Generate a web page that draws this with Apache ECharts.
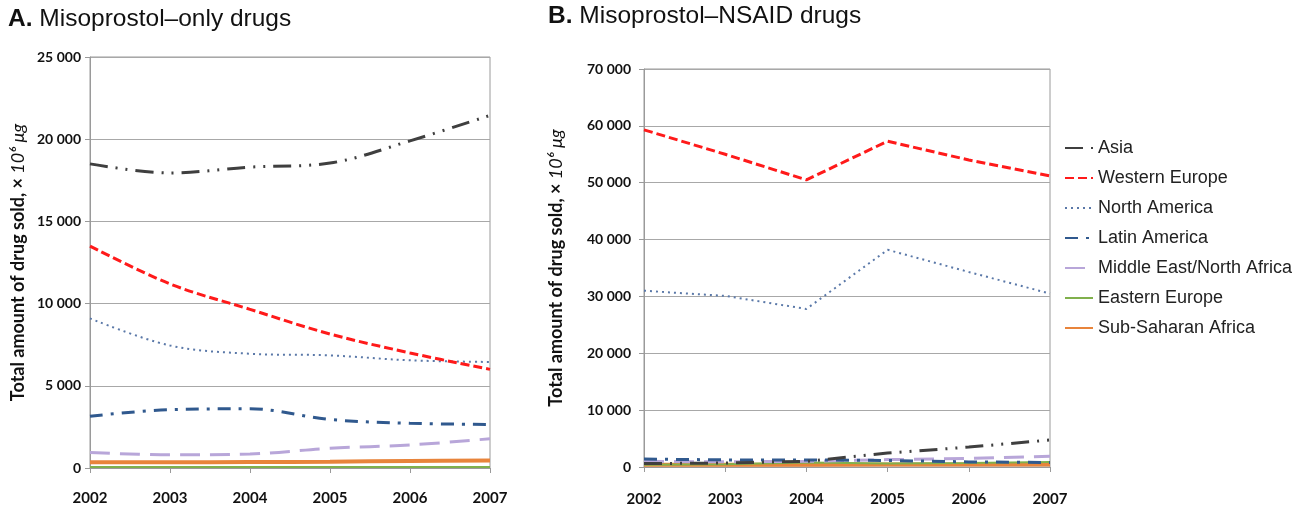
<!DOCTYPE html>
<html>
<head>
<meta charset="utf-8">
<script src="https://cdn.jsdelivr.net/npm/echarts@6/dist/echarts.min.js"></script>
<style>html,body{margin:0;padding:0;background:#fff}#c{width:1315px;height:513px}</style>
</head>
<body>
<div id="c"></div>
<script>
const years = ['2002','2003','2004','2005','2006','2007'];
const regions = ['Asia','Western Europe','North America','Latin America','Middle East/North Africa','Eastern Europe','Sub-Saharan Africa'];
// Panel A: Misoprostol-only drugs (x 10^6 μg)
const onlyAsia     = [18500, 17950, 18300, 18550, 19900, 21450];
const onlyWEurope  = [13500, 11200, 9650, 8150, 7000, 6000];
const onlyNAmerica = [9100, 7450, 6950, 6850, 6550, 6450];
const onlyLatAm    = [3150, 3550, 3600, 2950, 2720, 2650];
const onlyMENA     = [950, 800, 850, 1200, 1400, 1780];
const onlyEEurope  = [60, 60, 60, 60, 60, 60];
const onlySSA      = [350, 350, 360, 380, 430, 450];
// Panel B: Misoprostol-NSAID drugs
const nsaidAsia     = [600, 700, 1000, 2450, 3500, 4750];
const nsaidWEurope  = [59300, 55000, 50500, 57300, 54000, 51200];
const nsaidNAmerica = [31000, 30100, 27800, 38200, 34300, 30500];
const nsaidLatAm    = [1400, 1250, 1250, 1150, 900, 800];
const nsaidMENA     = [1000, 900, 1000, 1300, 1500, 1900];
const nsaidEEurope  = [400, 500, 800, 600, 700, 900];
const nsaidSSA      = [380, 390, 400, 420, 430, 450];

const leftTicks = {min:0, max:25000, interval:5000};
const rightTicks = {min:0, max:70000, interval:10000};

const styles = [
  {color:'#3f3f3f', width:3, type:[18,8,2,8,2,8]},
  {color:'#ff1a1a', width:3, type:[9,4]},
  {color:'#5a78a8', width:2, type:[2,4]},
  {color:'#30598e', width:3, type:[13,8,3,8]},
  {color:'#b8a6d9', width:3, type:[20,10]},
  {color:'#80b04c', width:2, type:'solid'},
  {color:'#e8843b', width:4, type:'solid'}
];
const leftData = [onlyAsia, onlyWEurope, onlyNAmerica, onlyLatAm, onlyMENA, onlyEEurope, onlySSA];
const rightData = [nsaidAsia, nsaidWEurope, nsaidNAmerica, nsaidLatAm, nsaidMENA, nsaidEEurope, nsaidSSA];

const fmt = v => String(v).replace(/\B(?=(\d{3})+(?!\d))/g, ' ');
const labelFont = {fontFamily:'Lato', fontWeight:'bold', color:'#111'};

function xAxis(gi, margin){
  return {type:'category', gridIndex:gi, data:years, boundaryGap:false,
    axisLine:{lineStyle:{color:'#9a9a9a'}}, axisTick:{show:true, length:5, lineStyle:{color:'#9a9a9a'}},
    axisLabel:Object.assign({fontSize:15, margin:margin}, labelFont)};
}
function yAxis(gi, ticks, gap, margin){
  return Object.assign({type:'value', gridIndex:gi,
    name:'{n|Total amount of drug sold, × }{i|10⁶ μg}', nameLocation:'middle', nameGap:gap,
    nameTextStyle:{rich:{n:{fontFamily:'Lato', fontWeight:'bold', fontSize:18, color:'#111'},
                         i:{fontFamily:'Lato', fontStyle:'italic', fontSize:18, color:'#111'}}},
    axisLine:{show:true, lineStyle:{color:'#9a9a9a'}}, axisTick:{show:true, length:5, lineStyle:{color:'#9a9a9a'}},
    splitLine:{lineStyle:{color:'#a8a8a8'}},
    axisLabel:Object.assign({fontSize:14, margin:margin, formatter:fmt}, labelFont)}, ticks);
}
const series = [];
regions.forEach((r,i)=>{
  const ls = {color:styles[i].color, width:styles[i].width, type:styles[i].type};
  series.push({name:r, type:'line', xAxisIndex:0, yAxisIndex:0, data:leftData[i], smooth:0.35,
    symbol:'none', lineStyle:ls, itemStyle:{color:styles[i].color}, z: 10-i});
  series.push({name:r, type:'line', xAxisIndex:1, yAxisIndex:1, data:rightData[i], smooth:false,
    symbol:'none', lineStyle:ls, itemStyle:{color:styles[i].color}, z: 10-i});
});

const titleStyle = {rich:{b:{fontFamily:'Liberation Sans', fontWeight:'bold', fontSize:24.5, color:'#111'}},
  fontFamily:'Liberation Sans', fontSize:24.5, fontWeight:'normal', color:'#111'};
const chart = echarts.init(document.getElementById('c'), null, {renderer:'canvas'});
chart.setOption({
  animation:false,
  backgroundColor:'#fff',
  title:[
    {text:'{b|A.} Misoprostol–only drugs', left:8, top:7, padding:0, textStyle:titleStyle},
    {text:'{b|B.} Misoprostol–NSAID drugs', left:548, top:4, padding:0, textStyle:titleStyle}
  ],
  grid:[
    {left:90, right:825, top:57, bottom:45, show:true, borderColor:'#9a9a9a', borderWidth:1},
    {left:644, right:265, top:69, bottom:46, show:true, borderColor:'#9a9a9a', borderWidth:1}
  ],
  xAxis:[xAxis(0,23), xAxis(1,25)],
  yAxis:[yAxis(0,leftTicks,63,9), yAxis(1,rightTicks,79,13)],
  legend:{orient:'vertical', left:1064, top:139, padding:0, itemWidth:28, itemHeight:16, itemGap:12,
    itemStyle:{opacity:0},
    data:regions, textStyle:{fontFamily:'Liberation Sans', fontSize:18, lineHeight:18, color:'#222'}},
  series:series
});
</script>
</body>
</html>
